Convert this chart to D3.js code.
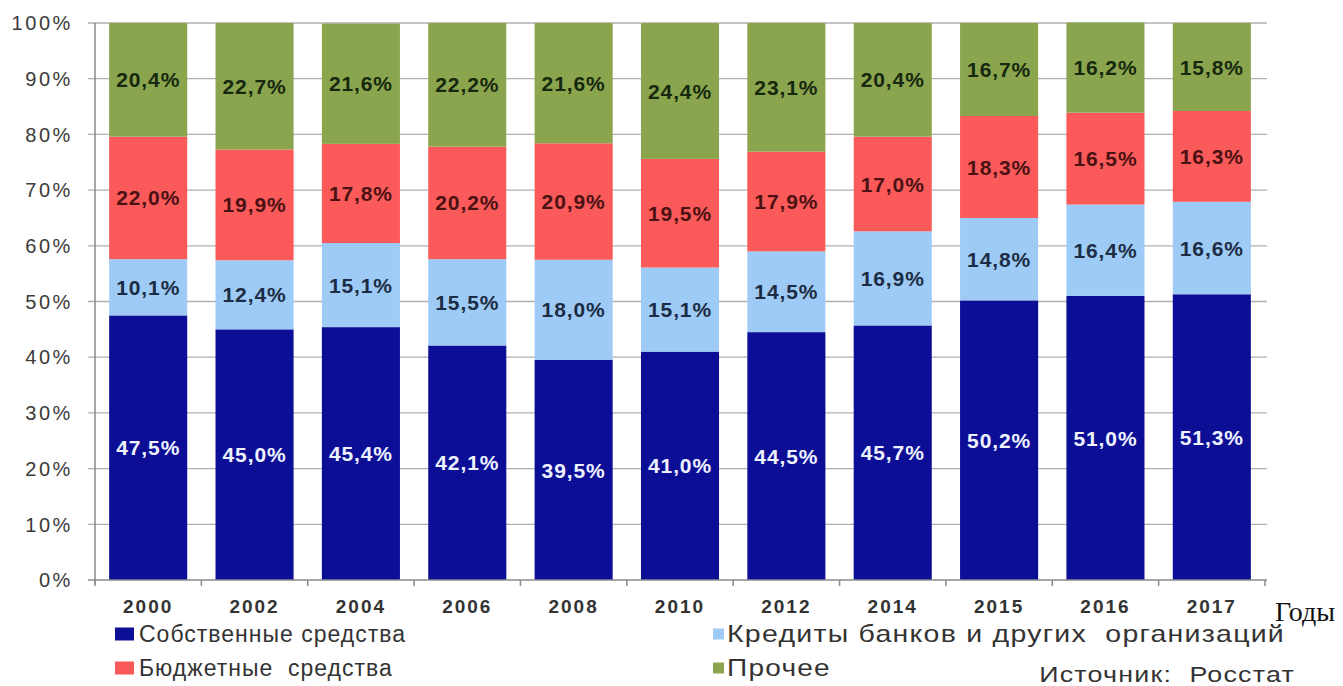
<!DOCTYPE html>
<html>
<head>
<meta charset="utf-8">
<script src="https://cdn.jsdelivr.net/npm/d3@7"></script>
<style>
  html, body { margin: 0; padding: 0; background: #fff; }
  svg { display: block; }
</style>
</head>
<body>
<svg id="chart" width="1343" height="686"></svg>
<script>
// Structure of investment financing sources, % of total
const years = ["2000", "2002", "2004", "2006", "2008", "2010", "2012", "2014", "2015", "2016", "2017"];
const ownFunds   = [47.5, 45.0, 45.4, 42.1, 39.5, 41.0, 44.5, 45.7, 50.2, 51.0, 51.3];
const bankCredit = [10.1, 12.4, 15.1, 15.5, 18.0, 15.1, 14.5, 16.9, 14.8, 16.4, 16.6];
const budget     = [22.0, 19.9, 17.8, 20.2, 20.9, 19.5, 17.9, 17.0, 18.3, 16.5, 16.3];
const other      = [20.4, 22.7, 21.6, 22.2, 21.6, 24.4, 23.1, 20.4, 16.7, 16.2, 15.8];
const yTicks = [0, 10, 20, 30, 40, 50, 60, 70, 80, 90, 100];

const seriesDefs = [
  { key: "own",    name: "Собственные средства",                    values: ownFunds,   fill: "#0c0f96", text: "#eef2ff" },
  { key: "credit", name: "Кредиты банков и других  организаций",    values: bankCredit, fill: "#9ecbf5", text: "#1c2c44" },
  { key: "budget", name: "Бюджетные  средства",                     values: budget,     fill: "#fa5a5a", text: "#4a1212" },
  { key: "other",  name: "Прочее",                                  values: other,      fill: "#8aa54e", text: "#16280e" }
];

const rows = years.map((yr, i) => {
  const r = { year: yr };
  seriesDefs.forEach(s => r[s.key] = s.values[i]);
  return r;
});

const stacked = d3.stack().keys(seriesDefs.map(s => s.key))(rows);

const svg = d3.select("#chart");
const plotLeft = 95, plotRight = 1265, plotTop = 23, plotBottom = 580;

const x = d3.scaleBand().domain(years).range([plotLeft, plotRight]).paddingInner(0.266).paddingOuter(0.133);
const y = d3.scaleLinear().domain([0, 100]).range([plotBottom, plotTop]);

// horizontal gridlines (extend left of the axis as ticks)
svg.append("g").selectAll("line").data(yTicks.filter(t => t > 0)).join("line")
  .attr("x1", plotLeft - 7).attr("x2", plotRight + 2)
  .attr("y1", d => y(d)).attr("y2", d => y(d))
  .attr("stroke", "#b0b0b0").attr("stroke-width", 1.3);

// y tick labels
svg.append("g").selectAll("text").data(yTicks).join("text")
  .attr("x", 73).attr("y", d => y(d))
  .attr("dy", "0.36em")
  .attr("text-anchor", "end")
  .attr("font-family", "Liberation Sans, Arial, sans-serif")
  .attr("font-size", 20)
  .attr("letter-spacing", 2.6)
  .attr("fill", "#3a3a3a")
  .text(d => d + "%");

// stacked bars
const layers = svg.append("g").selectAll("g").data(stacked).join("g")
  .attr("fill", (d, i) => seriesDefs[i].fill);
layers.selectAll("rect").data(d => d).join("rect")
  .attr("x", d => x(d.data.year))
  .attr("width", x.bandwidth())
  .attr("y", d => y(d[1]))
  .attr("height", d => y(d[0]) - y(d[1]));

// value labels
const labels = svg.append("g");
stacked.forEach((layer, i) => {
  labels.append("g").selectAll("text").data(layer).join("text")
    .attr("x", d => x(d.data.year) + x.bandwidth() / 2)
    .attr("y", d => y((d[0] + d[1]) / 2))
    .attr("dy", "0.36em")
    .attr("text-anchor", "middle")
    .attr("font-family", "Liberation Sans, Arial, sans-serif")
    .attr("font-weight", "bold")
    .attr("font-size", 21)
    .attr("letter-spacing", 0.9)
    .attr("fill", seriesDefs[i].text)
    .text(d => d3.format(".1f")(d[1] - d[0]).replace(".", ",") + "%");
});

// axis lines
svg.append("line").attr("x1", plotLeft).attr("x2", plotLeft).attr("y1", plotTop).attr("y2", plotBottom + 4)
  .attr("stroke", "#8a8a8a").attr("stroke-width", 1.5);
svg.append("line").attr("x1", plotLeft - 7).attr("x2", plotRight + 2).attr("y1", plotBottom).attr("y2", plotBottom)
  .attr("stroke", "#8a8a8a").attr("stroke-width", 1.5);

// x ticks at category boundaries
const gap = x.step() - x.bandwidth();
const boundaries = years.map(yr => x(yr) - gap / 2).concat([plotRight]);
svg.append("g").selectAll("line").data(boundaries).join("line")
  .attr("x1", d => d).attr("x2", d => d)
  .attr("y1", plotBottom).attr("y2", plotBottom + 6)
  .attr("stroke", "#8a8a8a").attr("stroke-width", 1.5);

// year labels
svg.append("g").selectAll("text").data(years).join("text")
  .attr("x", d => x(d) + x.bandwidth() / 2)
  .attr("y", 613)
  .attr("text-anchor", "middle")
  .attr("font-family", "Liberation Sans, Arial, sans-serif")
  .attr("font-weight", "bold")
  .attr("font-size", 19)
  .attr("letter-spacing", 2)
  .attr("fill", "#333")
  .text(d => d);

svg.append("text")
  .attr("x", 1275).attr("y", 621)
  .attr("font-family", "Liberation Serif, Times New Roman, serif")
  .attr("font-size", 28)
  .attr("fill", "#111")
  .text("Годы");

// legend: left column normal width, right column set a little wider
const legendItems = [
  { s: seriesDefs[0], x: 115, y: 634, w: 19, h: 13, tx: 139, sx: 1 },
  { s: seriesDefs[1], x: 713, y: 634, w: 11, h: 11, tx: 727, sx: 1.24 },
  { s: seriesDefs[2], x: 115, y: 668, w: 19, h: 13, tx: 139, sx: 1 },
  { s: seriesDefs[3], x: 713, y: 668, w: 11, h: 11, tx: 727, sx: 1.22 }
];
const lg = svg.append("g").selectAll("g").data(legendItems).join("g");
lg.append("rect")
  .attr("x", d => d.x).attr("y", d => d.y - d.h / 2)
  .attr("width", d => d.w).attr("height", d => d.h)
  .attr("fill", d => d.s.fill);
lg.append("text")
  .attr("transform", d => `translate(${d.tx},${d.y}) scale(${d.sx},1)`)
  .attr("dy", "0.36em")
  .attr("font-family", "Liberation Sans, Arial, sans-serif")
  .attr("font-size", 23)
  .attr("letter-spacing", 1)
  .attr("fill", "#333")
  .style("white-space", "pre")
  .text(d => d.s.name);

svg.append("text")
  .attr("transform", "translate(1295,682) scale(1.22,1)")
  .attr("text-anchor", "end")
  .attr("font-family", "Liberation Sans, Arial, sans-serif")
  .attr("font-size", 22)
  .attr("letter-spacing", 1)
  .attr("fill", "#333")
  .style("white-space", "pre")
  .text("Источник:  Росстат");
</script>
</body>
</html>
